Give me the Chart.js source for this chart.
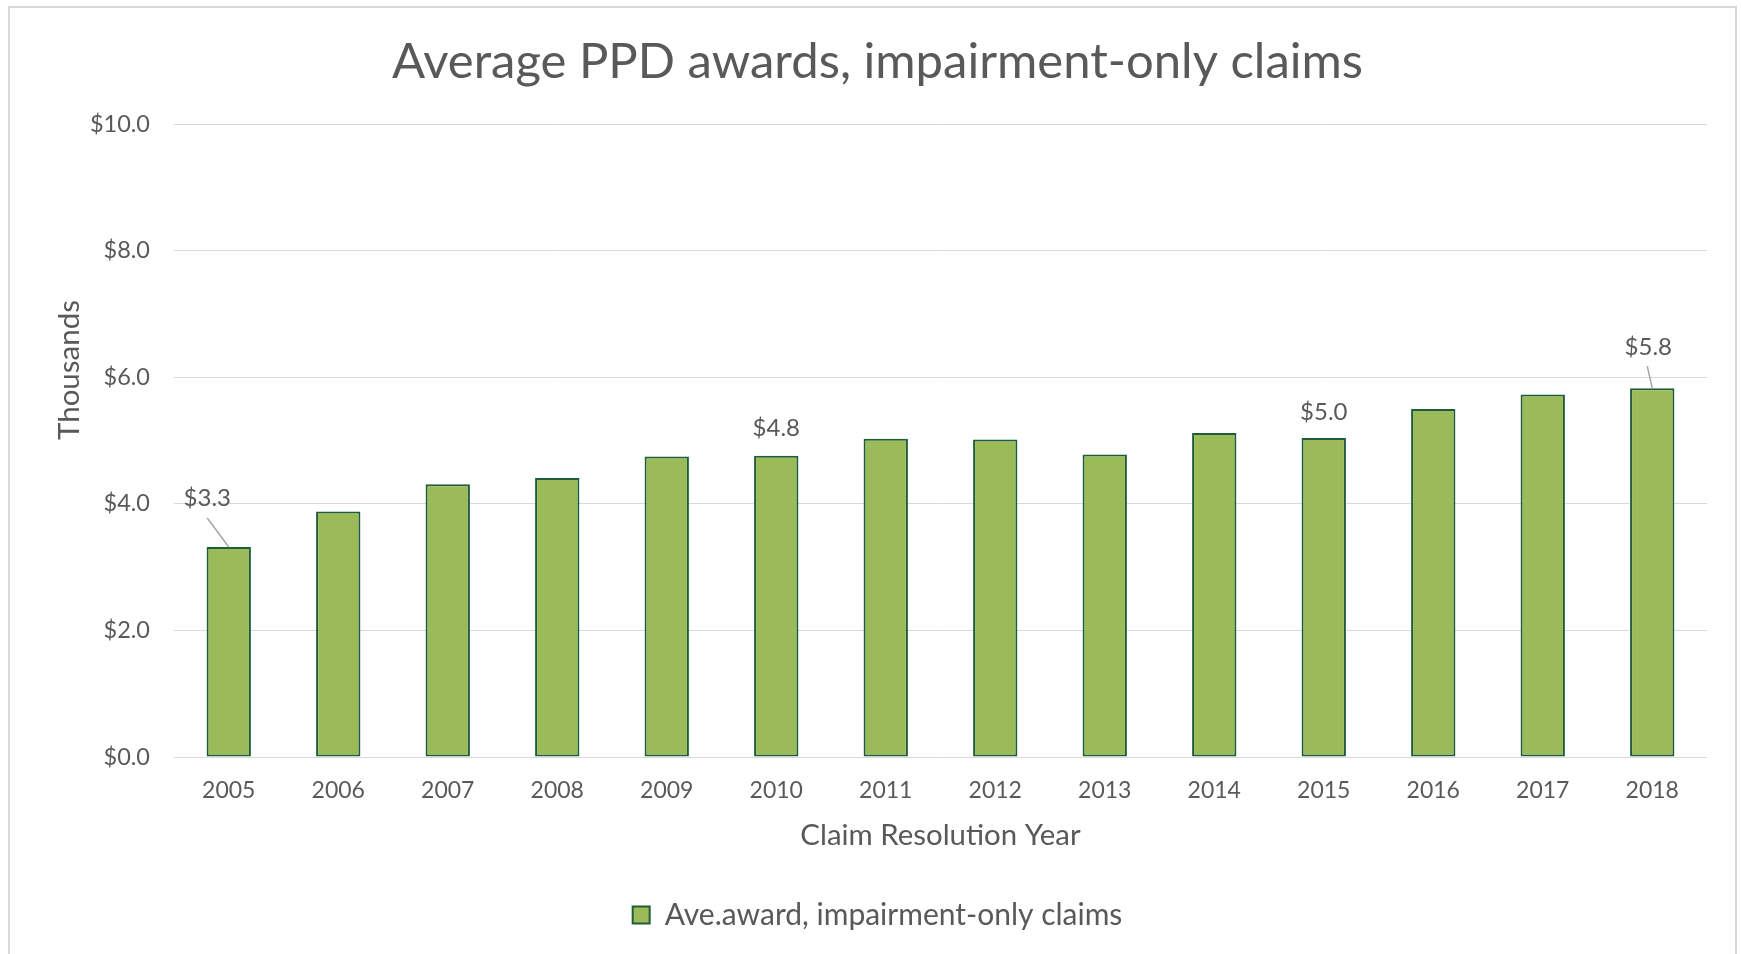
<!DOCTYPE html>
<html>
<head>
<meta charset="utf-8">
<title>Average PPD awards, impairment-only claims</title>
<script src="https://cdn.jsdelivr.net/npm/chart.js@4.4.1/dist/chart.umd.min.js"></script>
<style>
  html, body { margin: 0; padding: 0; background: #fff; }
</style>
</head>
<body>
<canvas id="ppdChart" width="1741" height="954"></canvas>
<script>
// Chart data
const years = ['2005', '2006', '2007', '2008', '2009', '2010', '2011',
               '2012', '2013', '2014', '2015', '2016', '2017', '2018'];
const avgAward = [3.32, 3.88, 4.31, 4.41, 4.75, 4.76, 5.03,
                  5.02, 4.78, 5.12, 5.04, 5.50, 5.73, 5.83]; // thousands of $
const yTicks = [0, 2, 4, 6, 8, 10];
const labelledYears = ['2005', '2010', '2015', '2018'];

const FONT = 'Lato, "Open Sans", sans-serif';
const TEXT = '#595959';

// where each value label sits relative to its bar top (leader = start of the pointer line)
const labelOffsets = {
    '2005': { dx: -21.5, dy: -49, leader: [0, 20] },
    '2010': { dx: 0, dy: -28 },
    '2015': { dx: 0, dy: -26 },
    '2018': { dx: -4, dy: -41, leader: [-1, 19] }
};

// white background + light frame round the chart
const frame = {
    id: 'frame',
    beforeDraw(chart) {
        const ctx = chart.ctx;
        ctx.save();
        ctx.fillStyle = '#fff';
        ctx.fillRect(0, 0, chart.width, chart.height);
        ctx.strokeStyle = '#d9d9d9';
        ctx.lineWidth = 2;
        ctx.strokeRect(9, 7, 1727, 1000);
        ctx.restore();
    }
};

// "Thousands" sits a bit above the middle of the axis, so draw it by hand
const yTitle = {
    id: 'yTitle',
    afterDraw(chart) {
        const ctx = chart.ctx;
        ctx.save();
        ctx.translate(69, 370);
        ctx.rotate(-Math.PI / 2);
        ctx.font = '29.5px ' + FONT;
        ctx.fillStyle = TEXT;
        ctx.textAlign = 'center';
        ctx.textBaseline = 'middle';
        ctx.fillText('Thousands', 0, 0);
        ctx.restore();
    }
};

// value labels on a few bars
const valueLabels = {
    id: 'valueLabels',
    afterDatasetsDraw(chart) {
        const ctx = chart.ctx;
        const meta = chart.getDatasetMeta(0);
        ctx.save();
        ctx.font = '24px ' + FONT;
        ctx.fillStyle = TEXT;
        ctx.textAlign = 'center';
        ctx.textBaseline = 'middle';
        labelledYears.forEach(yr => {
            const i = years.indexOf(yr);
            const bar = meta.data[i];
            const off = labelOffsets[yr];
            const tx = bar.x + off.dx;
            const ty = bar.y + off.dy;
            ctx.fillText('$' + avgAward[i].toFixed(1), tx, ty);
            if (off.leader) {
                ctx.strokeStyle = '#a6a6a6';
                ctx.lineWidth = 1.5;
                ctx.beginPath();
                ctx.moveTo(tx + off.leader[0], ty + off.leader[1]);
                ctx.lineTo(bar.x, bar.y);
                ctx.stroke();
            }
        });
        ctx.restore();
    }
};

const ctx = document.getElementById('ppdChart').getContext('2d');
new Chart(ctx, {
    type: 'bar',
    data: {
        labels: years,
        datasets: [{
            label: 'Ave.award, impairment-only claims',
            data: avgAward,
            backgroundColor: '#9bbb59',
            borderColor: '#1f5c3a',
            borderWidth: 2,
            borderSkipped: false,
            barPercentage: 0.405,
            categoryPercentage: 1
        }]
    },
    options: {
        responsive: false,
        animation: false,
        layout: { padding: { left: 48, right: 34, top: 0, bottom: 14 } },
        plugins: {
            title: {
                display: true,
                text: 'Average PPD awards, impairment-only claims',
                color: TEXT,
                font: { family: FONT, size: 49, weight: 'normal' },
                padding: { top: 32.5, bottom: 33 }
            },
            legend: {
                position: 'bottom',
                labels: {
                    color: TEXT,
                    font: { family: FONT, size: 30 },
                    boxWidth: 17,
                    boxHeight: 17,
                    padding: 10
                }
            },
            tooltip: { enabled: false }
        },
        scales: {
            x: {
                afterFit: scale => { scale.height = 133; },
                grid: { display: false },
                border: { display: false },
                ticks: { color: TEXT, font: { family: FONT, size: 23 }, padding: 12 },
                title: {
                    display: true,
                    text: 'Claim Resolution Year',
                    color: TEXT,
                    font: { family: FONT, size: 29.4 },
                    padding: { top: 0, bottom: 36.4 }
                }
            },
            y: {
                min: 0,
                max: 10,
                afterBuildTicks: scale => { scale.ticks = yTicks.map(v => ({ value: v })); },
                afterFit: scale => { scale.width = 126; },
                grid: { color: '#d9d9d9', lineWidth: 1, drawTicks: false },
                border: { display: false },
                ticks: {
                    color: TEXT,
                    font: { family: FONT, size: 23.5 },
                    padding: 24,
                    callback: v => '$' + v.toFixed(1)
                }
            }
        }
    },
    plugins: [frame, yTitle, valueLabels]
});
</script>
</body>
</html>
